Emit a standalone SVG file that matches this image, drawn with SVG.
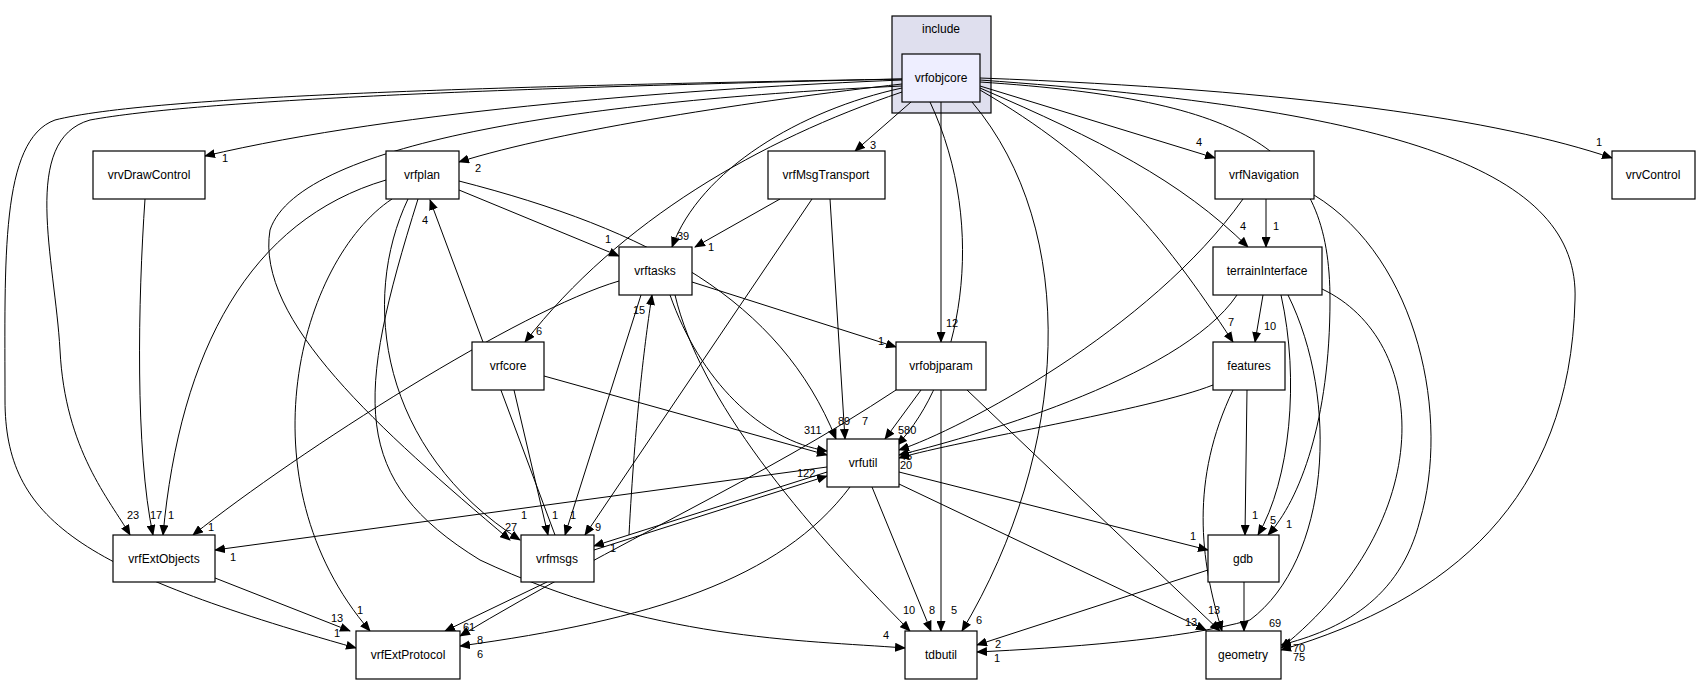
<svg xmlns="http://www.w3.org/2000/svg" width="1701" height="684" viewBox="0 0 1701 684">
<style>
.n rect{fill:#fff;stroke:#000;stroke-width:1.2}
.n text,.c text{font-family:"Liberation Sans",Arial,sans-serif;fill:#000}
.n text{font-size:12px;text-anchor:middle}
.c path{fill:none;stroke:#000;stroke-width:1}
.c text{font-size:11px}
</style>
<defs><marker id="a" markerWidth="11" markerHeight="9" refX="10" refY="4.5" orient="auto" markerUnits="userSpaceOnUse"><path d="M0,0L11,4.5L0,9z" fill="#000"/></marker></defs>
<rect x="0" y="0" width="1701" height="684" fill="#fff"/>
<g id="cluster_include"><rect x="892" y="16" width="99" height="97" fill="#dfdfee" stroke="#000" stroke-width="1.2"/><text x="941" y="33" font-family="Liberation Sans,Arial,sans-serif" font-size="12" text-anchor="middle">include</text></g>
<g class="c" id="edges" marker-end="url(#a)">
<path d="M902,80 C700,88 400,110 205,156"/>
<path d="M902,84 C760,100 560,130 459,162"/>
<path d="M911,102 L855,151"/>
<path d="M902,88 C800,110 700,170 672,247"/>
<path d="M902,92 C760,140 620,220 525,342"/>
<path d="M941,102 L941,342"/>
<path d="M930,102 C990,230 960,380 897,445"/>
<path d="M980,86 L1215,158"/>
<path d="M980,88 C1100,140 1180,180 1248,247"/>
<path d="M980,90 C1100,160 1160,230 1233,342"/>
<path d="M980,82 C1250,100 1330,150 1330,300 C1330,420 1300,500 1268,535"/>
<path d="M980,80 C1400,110 1580,170 1575,300 C1570,500 1450,600 1281,650"/>
<path d="M980,78 C1300,90 1500,120 1612,158"/>
<path d="M972,102 C1080,230 1070,450 962,631"/>
<path d="M902,79 C500,88 200,100 90,120 C20,140 55,260 60,350 C65,450 110,500 130,535"/>
<path d="M902,79 C500,86 150,96 55,120 C0,140 5,260 5,400 C5,520 80,570 356,648"/>
<path d="M902,86 C600,100 300,140 270,230 C255,320 380,430 510,540"/>
<path d="M145,199 C138,300 135,450 153,535"/>
<path d="M459,190 L619,256"/>
<path d="M459,181 C650,230 780,300 836,439"/>
<path d="M386,180 C250,220 180,350 163,535"/>
<path d="M392,199 C300,260 240,480 370,631"/>
<path d="M408,199 C360,300 380,450 520,540"/>
<path d="M418,199 C355,400 350,480 480,560 C650,640 800,640 905,648"/>
<path d="M555,535 L430,200"/>
<path d="M629,535 C635,420 645,340 652,295"/>
<path d="M780,199 L695,247"/>
<path d="M812,199 L585,535"/>
<path d="M830,199 L845,439"/>
<path d="M619,281 C520,310 300,450 193,535"/>
<path d="M692,282 L896,347"/>
<path d="M670,295 C700,380 760,440 827,451"/>
<path d="M675,295 C700,400 800,520 910,631"/>
<path d="M641,295 L565,535"/>
<path d="M544,376 L827,455"/>
<path d="M514,390 L548,535"/>
<path d="M921,390 L885,439"/>
<path d="M941,390 L941,631"/>
<path d="M967,390 L1220,631"/>
<path d="M896,390 C760,480 620,540 460,636"/>
<path d="M827,467 L215,550"/>
<path d="M827,472 L594,546"/>
<path d="M594,550 L827,476"/>
<path d="M899,472 L1208,550"/>
<path d="M872,487 L931,631"/>
<path d="M899,484 L1206,630"/>
<path d="M850,487 C780,580 650,620 460,646"/>
<path d="M547,582 L445,631"/>
<path d="M215,578 L350,631"/>
<path d="M1263,295 L1255,342"/>
<path d="M1237,295 C1180,380 960,440 899,455"/>
<path d="M1281,295 C1300,380 1290,480 1258,535"/>
<path d="M1288,295 C1340,400 1330,560 1250,620 C1180,640 1060,648 977,652"/>
<path d="M1322,289 C1430,340 1440,520 1281,648"/>
<path d="M1213,385 C1150,410 960,440 899,458"/>
<path d="M1247,390 L1245,535"/>
<path d="M1233,390 C1190,480 1200,560 1222,631"/>
<path d="M1266,199 L1266,247"/>
<path d="M1243,199 C1150,330 960,430 899,450"/>
<path d="M1314,195 C1420,260 1450,420 1420,520 C1400,600 1340,630 1281,645"/>
<path d="M1208,570 L977,645"/>
<path d="M1244,582 L1244,631"/>
<g marker-end="none" stroke="none">
<text x="222" y="162">1</text><text x="475" y="172">2</text><text x="870" y="149">3</text><text x="677" y="240">39</text>
<text x="536" y="335">6</text><text x="946" y="327">12</text><text x="1196" y="146">4</text><text x="1240" y="230">4</text>
<text x="1228" y="326">7</text><text x="1286" y="528">1</text><text x="1596" y="146">1</text><text x="976" y="624">6</text>
<text x="127" y="519">23</text><text x="150" y="519">17</text><text x="168" y="519">1</text><text x="208" y="531">1</text>
<text x="334" y="637">1</text><text x="505" y="531">27</text><text x="521" y="519">1</text><text x="552" y="519">1</text>
<text x="570" y="519">1</text><text x="595" y="531">9</text><text x="422" y="224">4</text><text x="633" y="314">15</text>
<text x="605" y="243">1</text><text x="708" y="251">1</text><text x="838" y="425">89</text><text x="862" y="425">7</text>
<text x="878" y="345">1</text><text x="804" y="434">311</text><text x="898" y="434">580</text><text x="900" y="460">45</text><text x="900" y="469">20</text>
<text x="331" y="622">13</text><text x="357" y="614">1</text><text x="230" y="561">1</text><text x="610" y="552">1</text>
<text x="797" y="477">122</text><text x="1190" y="540">1</text><text x="929" y="614">8</text><text x="951" y="614">5</text>
<text x="903" y="614">10</text><text x="883" y="639">4</text><text x="1185" y="626">13</text><text x="1208" y="614">13</text>
<text x="1269" y="627">69</text><text x="1252" y="519">1</text><text x="1270" y="524">5</text><text x="1264" y="330">10</text>
<text x="1273" y="230">1</text><text x="995" y="648">2</text><text x="994" y="662">1</text><text x="463" y="631">61</text>
<text x="477" y="644">8</text><text x="477" y="658">6</text><text x="1293" y="652">70</text><text x="1293" y="661">75</text>
</g>
</g>
<g class="n" id="vrfobjcore"><rect x="902" y="54" width="78" height="48" fill="#eeeeff" style="fill:#eeeeff"/><text x="941" y="82">vrfobjcore</text></g>
<g class="n" id="vrvDrawControl"><rect x="93" y="151" width="112" height="48"/><text x="149" y="179">vrvDrawControl</text></g>
<g class="n" id="vrfplan"><rect x="386" y="151" width="73" height="48"/><text x="422" y="179">vrfplan</text></g>
<g class="n" id="vrfMsgTransport"><rect x="768" y="151" width="117" height="48"/><text x="826" y="179">vrfMsgTransport</text></g>
<g class="n" id="vrfNavigation"><rect x="1215" y="151" width="99" height="48"/><text x="1264" y="179">vrfNavigation</text></g>
<g class="n" id="vrvControl"><rect x="1612" y="151" width="83" height="48"/><text x="1653" y="179">vrvControl</text></g>
<g class="n" id="vrftasks"><rect x="619" y="247" width="73" height="48"/><text x="655" y="275">vrftasks</text></g>
<g class="n" id="terrainInterface"><rect x="1213" y="247" width="109" height="48"/><text x="1267" y="275">terrainInterface</text></g>
<g class="n" id="vrfcore"><rect x="472" y="342" width="72" height="48"/><text x="508" y="370">vrfcore</text></g>
<g class="n" id="vrfobjparam"><rect x="896" y="342" width="90" height="48"/><text x="941" y="370">vrfobjparam</text></g>
<g class="n" id="features"><rect x="1213" y="342" width="72" height="48"/><text x="1249" y="370">features</text></g>
<g class="n" id="vrfutil"><rect x="827" y="439" width="72" height="48"/><text x="863" y="467">vrfutil</text></g>
<g class="n" id="vrfExtObjects"><rect x="113" y="535" width="102" height="47"/><text x="164" y="563">vrfExtObjects</text></g>
<g class="n" id="vrfmsgs"><rect x="521" y="535" width="73" height="47"/><text x="557" y="563">vrfmsgs</text></g>
<g class="n" id="gdb"><rect x="1208" y="535" width="71" height="47"/><text x="1243" y="563">gdb</text></g>
<g class="n" id="vrfExtProtocol"><rect x="356" y="631" width="104" height="48"/><text x="408" y="659">vrfExtProtocol</text></g>
<g class="n" id="tdbutil"><rect x="905" y="631" width="72" height="48"/><text x="941" y="659">tdbutil</text></g>
<g class="n" id="geometry"><rect x="1206" y="631" width="75" height="48"/><text x="1243" y="659">geometry</text></g>
</svg>
